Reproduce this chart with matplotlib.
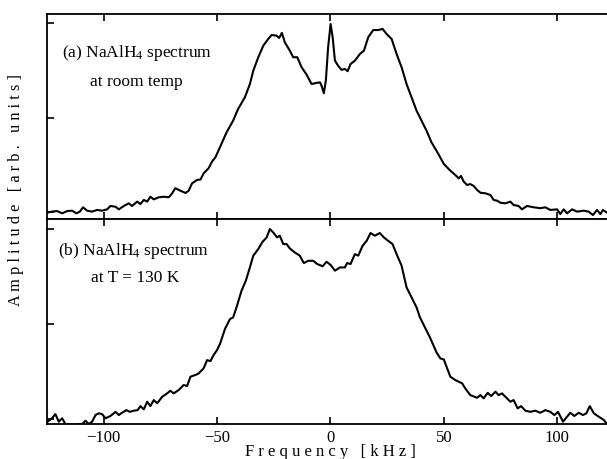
import matplotlib
matplotlib.use("Agg")
import matplotlib.pyplot as plt

plt.rcParams['font.family'] = ['Liberation Serif', 'DejaVu Serif']
plt.rcParams['mathtext.fontset'] = 'custom'
plt.rcParams['mathtext.rm'] = 'Liberation Serif'
plt.rcParams['mathtext.it'] = 'Liberation Serif:italic'

# panel (a): room temperature
freq_a = [-125.0, -124.7, -122.8, -120.5, -118.3, -116.1, -113.9, -112.0, -110.5, -109.1,
          -107.3, -105.1, -102.9, -100.7, -98.5, -97.0, -94.8, -93.3, -91.1, -88.9,
          -87.5, -85.2, -83.8, -82.3, -80.8, -79.4, -77.9, -75.7, -73.5, -71.3,
          -69.8, -68.4, -66.2, -63.9, -62.5, -61.0, -58.8, -57.3, -55.9, -53.7,
          -52.2, -50.7, -48.7, -45.8, -42.9, -40.7, -37.7, -35.5, -34.0, -31.8,
          -29.6, -27.4, -25.9, -23.7, -22.6, -21.4, -20.1, -17.9, -16.4, -14.6,
          -12.7, -10.5, -8.3, -6.1, -4.6, -3.9, -2.9, -2.0, -1.0, 0.1,
          1.0, 2.0, 3.4, 4.9, 6.4, 7.6, 8.9, 10.8, 13.0, 14.8,
          16.7, 18.9, 21.1, 23.0, 24.8, 27.0, 29.2, 31.4, 33.6, 35.8,
          38.0, 40.2, 42.4, 44.6, 47.5, 50.0, 52.9, 55.1, 56.6, 57.6,
          58.8, 60.3, 61.7, 63.2, 64.7, 66.2, 68.4, 70.6, 72.0, 73.5,
          75.0, 77.2, 79.4, 80.8, 83.0, 84.5, 86.7, 89.7, 92.6, 94.8,
          97.0, 100.0, 101.4, 102.9, 104.4, 106.6, 108.8, 111.7, 113.9, 115.8,
          117.6, 119.1, 120.2, 122.0, 125.0]
amp_a = [-0.003, -0.003, 0.002, 0.005, -0.007, 0.005, 0.007, -0.007, 0.002, 0.025,
         0.007, 0.002, 0.011, 0.007, 0.014, 0.032, 0.028, 0.014, 0.032, 0.046,
         0.032, 0.055, 0.042, 0.064, 0.055, 0.081, 0.067, 0.078, 0.081, 0.078,
         0.099, 0.126, 0.113, 0.101, 0.113, 0.152, 0.170, 0.172, 0.205, 0.232,
         0.267, 0.290, 0.343, 0.422, 0.484, 0.546, 0.608, 0.678, 0.749, 0.820,
         0.881, 0.917, 0.938, 0.934, 0.922, 0.949, 0.899, 0.855, 0.820, 0.820,
         0.767, 0.728, 0.678, 0.684, 0.687, 0.669, 0.629, 0.696, 0.873, 0.996,
         0.926, 0.802, 0.775, 0.753, 0.758, 0.746, 0.784, 0.802, 0.837, 0.855,
         0.926, 0.964, 0.964, 0.970, 0.943, 0.917, 0.837, 0.767, 0.678, 0.608,
         0.537, 0.484, 0.431, 0.369, 0.310, 0.255, 0.219, 0.196, 0.178, 0.191,
         0.161, 0.143, 0.148, 0.138, 0.117, 0.102, 0.099, 0.090, 0.064, 0.060,
         0.049, 0.046, 0.055, 0.037, 0.032, 0.014, 0.032, 0.025, 0.020, 0.025,
         0.011, 0.014, -0.011, 0.014, -0.007, 0.014, 0.002, 0.007, 0.002, -0.016,
         0.011, -0.011, 0.011, -0.003, 0.005]

# panel (b): T = 130 K
freq_b = [-125.0, -124.7, -122.8, -121.3, -119.8, -118.3, -116.9, -113.2, -109.5, -108.0,
          -106.6, -105.1, -103.6, -102.2, -100.7, -99.2, -97.0, -94.8, -93.3, -91.9,
          -90.0, -88.5, -86.7, -85.0, -83.8, -82.3, -80.8, -79.4, -77.9, -76.4,
          -74.2, -72.0, -70.6, -69.1, -66.9, -64.7, -63.2, -61.7, -59.5, -58.1,
          -55.9, -54.4, -52.9, -51.5, -50.0, -48.7, -46.5, -44.3, -42.9, -41.4,
          -39.2, -37.3, -35.5, -34.0, -31.8, -29.9, -28.1, -26.7, -25.2, -23.5,
          -22.3, -20.8, -19.3, -17.9, -15.7, -13.5, -11.7, -9.8, -7.6, -5.8,
          -3.4, -1.7, 0.1, 2.0, 4.2, 6.4, 7.4, 8.9, 10.8, 12.3,
          14.2, 16.0, 17.7, 19.6, 21.8, 23.6, 25.5, 27.4, 29.2, 31.4,
          33.6, 35.8, 38.0, 39.5, 41.7, 43.9, 46.8, 48.5, 50.0, 51.5,
          52.9, 55.1, 58.1, 59.5, 61.7, 64.7, 66.2, 67.6, 69.4, 70.9,
          72.8, 74.2, 75.7, 77.2, 79.4, 80.8, 82.6, 84.1, 86.0, 88.2,
          90.4, 92.6, 94.8, 97.0, 98.8, 100.4, 102.6, 104.4, 105.8, 107.6,
          109.5, 111.4, 112.9, 114.4, 116.2, 118.4, 120.6, 122.0, 125.0]
amp_b = [-0.014, -0.014, 0.004, 0.026, -0.014, 0.004, -0.026, -0.030, -0.026, -0.009,
         -0.026, -0.014, 0.021, 0.030, 0.026, 0.004, 0.016, 0.038, 0.021, 0.033,
         0.047, 0.038, 0.044, 0.047, 0.068, 0.051, 0.091, 0.068, 0.100, 0.083,
         0.117, 0.135, 0.149, 0.135, 0.153, 0.179, 0.174, 0.223, 0.232, 0.240,
         0.267, 0.310, 0.305, 0.337, 0.363, 0.395, 0.474, 0.526, 0.535, 0.588,
         0.675, 0.728, 0.798, 0.860, 0.895, 0.933, 0.956, 1.000, 0.982, 0.956,
         0.965, 0.921, 0.921, 0.898, 0.877, 0.860, 0.821, 0.833, 0.833, 0.816,
         0.804, 0.828, 0.811, 0.781, 0.798, 0.798, 0.821, 0.816, 0.868, 0.860,
         0.912, 0.938, 0.979, 0.965, 0.979, 0.956, 0.938, 0.921, 0.868, 0.807,
         0.693, 0.640, 0.588, 0.535, 0.483, 0.430, 0.351, 0.319, 0.314, 0.267,
         0.223, 0.205, 0.188, 0.161, 0.126, 0.112, 0.126, 0.109, 0.138, 0.121,
         0.144, 0.126, 0.135, 0.117, 0.091, 0.100, 0.056, 0.068, 0.044, 0.038,
         0.044, 0.033, 0.047, 0.038, 0.021, 0.038, -0.014, 0.012, 0.033, 0.016,
         0.033, 0.021, 0.030, 0.068, 0.030, 0.012, -0.005, -0.026, -0.030]

xticks = [-100, -50, 0, 50, 100]
yticks = [0, 0.5, 1.0]

fig = plt.figure(figsize=(6.07, 4.59), dpi=100)
ax_a = fig.add_axes([0.0774, 0.5229, 0.9338, 0.4466])
ax_b = fig.add_axes([0.0774, 0.0763, 0.9338, 0.4466])

for ax in (ax_a, ax_b):
    ax.set_xlim(-125, 125)
    ax.set_xticks(xticks)
    ax.set_yticks(yticks)
    ax.set_yticklabels([])
    ax.tick_params(direction='in', length=5, width=1.2, top=True, right=False,
                   labelsize=12, pad=4)
    for side in ('left', 'top', 'bottom'):
        ax.spines[side].set_linewidth(1.3)
    ax.spines['right'].set_visible(False)

ax_a.plot(freq_a, amp_a, color='black', lw=1.5)
ax_a.set_ylim(-0.037, 1.049)
ax_a.set_xticklabels([])
ax_a.text(-85.4, 0.843, "(a) NaAlH$_4$ spectrum", fontsize=12.5, ha='center', va='center')
ax_a.text(-85.4, 0.689, "at room temp", fontsize=12.5, ha='center', va='center')

ax_b.plot(freq_b, amp_b, color='black', lw=1.5)
ax_b.set_ylim(-0.026, 1.053)
ax_b.set_xticklabels(['\u2212100', '\u221250', '0', '50', '100'])
ax_b.text(-86.6, 0.884, "(b) NaAlH$_4$ spectrum", fontsize=12.5, ha='center', va='center')
ax_b.text(-86.0, 0.742, "at T = 130 K", fontsize=12.5, ha='center', va='center')

fig.text(0.5445, 0.015, "F r e q u e n c y   [ k H z ]", fontsize=12, ha='center', va='center')
fig.text(0.026, 0.585, "A m p l i t u d e   [ a r b .   u n i t s ]", fontsize=11.8,
         ha='center', va='center', rotation=90)

fig.savefig("out.png", dpi=100)
